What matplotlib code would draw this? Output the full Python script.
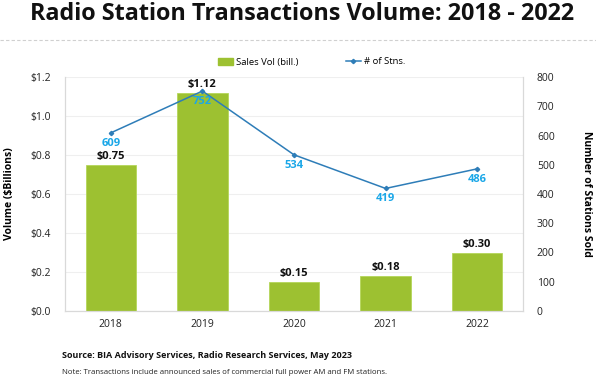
import matplotlib.pyplot as plt
from matplotlib.lines import Line2D

years = ["2018", "2019", "2020", "2021", "2022"]
sales_vol = [0.75, 1.12, 0.15, 0.18, 0.30]
stations = [609, 752, 534, 419, 486]
left_ticks = [0.0, 0.2, 0.4, 0.6, 0.8, 1.0, 1.2]
right_ticks = [0, 100, 200, 300, 400, 500, 600, 700, 800]

BAR_GREEN = "#9DC131"
LINE_BLUE = "#2E7DB8"
LABEL_CYAN = "#1AA7E8"
AXIS_GRAY = "#D9D9D9"

plt.rcParams["font.family"] = ["Open Sans", "DejaVu Sans"]


def main() -> None:
    fig = plt.figure(figsize=(5.96, 3.78), dpi=100)
    ax = fig.add_axes([65 / 596, 67 / 378, 458 / 596, 234 / 378])
    x = list(range(len(years)))

    ax.bar(x, sales_vol, width=0.55, color=BAR_GREEN, edgecolor="#B5D65A",
           linewidth=0.6, zorder=2)
    ax.set_xlim(-0.5, len(years) - 0.5)
    ax.set_ylim(0, 1.2)
    ax.set_yticks(left_ticks)
    ax.set_yticklabels([f"${v:.1f}" for v in left_ticks])
    ax.set_xticks(x)
    ax.set_xticklabels(years)
    ax.tick_params(axis="both", length=0, labelsize=7.5, colors="#222222")
    ax.tick_params(axis="x", pad=6)
    ax.tick_params(axis="y", pad=10)
    ax.grid(axis="y", color="#EFEFEF", linewidth=0.8, zorder=0)
    for side in ["left", "right", "bottom"]:
        ax.spines[side].set_color(AXIS_GRAY)
    ax.spines["top"].set_visible(False)
    ax.set_ylabel("Volume ($Billions)", fontsize=7.5, fontweight="bold",
                  labelpad=11)

    for xi, v in zip(x, sales_vol):
        ax.annotate(f"${v:.2f}", (xi, v), xytext=(0, 2),
                    textcoords="offset points", ha="center", va="bottom",
                    fontsize=8, fontweight="bold", color="#111111")

    ax2 = ax.twinx()
    ax2.plot(x, stations, color=LINE_BLUE, linewidth=1.1, marker="D",
             markersize=2.2, zorder=3)
    ax2.set_ylim(0, 800)
    ax2.set_yticks(right_ticks)
    ax2.tick_params(axis="y", length=0, labelsize=7.5, colors="#222222", pad=10)
    for side in ["left", "right", "bottom"]:
        ax2.spines[side].set_color(AXIS_GRAY)
    ax2.spines["top"].set_visible(False)
    ax2.set_ylabel("Number of Stations Sold", fontsize=7.5, fontweight="bold",
                   rotation=-90, labelpad=27)
    for xi, v in zip(x, stations):
        ax2.annotate(str(v), (xi, v), xytext=(0, -3.5),
                     textcoords="offset points", ha="center", va="top",
                     fontsize=8, fontweight="bold", color=LABEL_CYAN)

    fig.text(0.507, 1 - 14 / 378, "Radio Station Transactions Volume: 2018 - 2022",
             ha="center", va="center", fontsize=16.8, fontweight="bold",
             color="#111111")
    fig.add_artist(Line2D([0, 1], [1 - 40 / 378, 1 - 40 / 378],
                          color="#D0D0D0", linewidth=0.8, linestyle=(0, (3, 2))))

    handles = [
        plt.Rectangle((0, 0), 1, 1, color=BAR_GREEN),
        Line2D([0], [0], color=LINE_BLUE, linewidth=1.1, marker="D",
               markersize=2.2),
    ]
    fig.legend(handles, ["Sales Vol (bill.)", "# of Stns."],
               loc="center", bbox_to_anchor=(0.523, 1 - 62 / 378), ncol=2,
               frameon=False, fontsize=6.8, handlelength=1.6,
               handletextpad=0.3, columnspacing=5)

    fig.text(62 / 596, 1 - 356 / 378,
             "Source: BIA Advisory Services, Radio Research Services, May 2023",
             ha="left", va="center", fontsize=6.5, fontweight="bold",
             color="#111111")
    fig.text(62 / 596, 1 - 372 / 378,
             "Note: Transactions include announced sales of commercial full power AM and FM stations.",
             ha="left", va="center", fontsize=5.6, color="#222222")

    fig.savefig("out.png", dpi=100)
    plt.close(fig)


if __name__ == "__main__":
    main()
